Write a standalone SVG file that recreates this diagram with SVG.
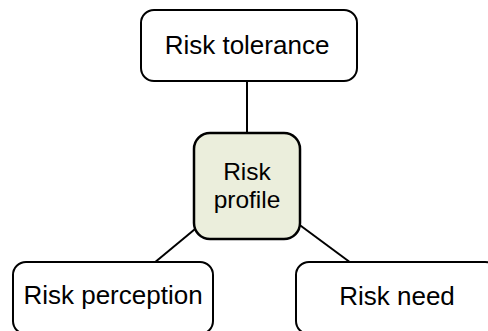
<svg xmlns="http://www.w3.org/2000/svg" width="488" height="331" viewBox="0 0 488 331">
  <style>
    .box { fill: #ffffff; stroke: #000000; stroke-width: 2; }
    .core { fill: #ebeedc; stroke: #000000; stroke-width: 2.5; }
    .link { stroke: #000000; stroke-width: 2; fill: none; }
    .label { font-family: "Liberation Sans", Arial, sans-serif; font-size: 26px; fill: #000000; text-anchor: middle; }
    .core-label { font-size: 24.5px; }
  </style>
  <rect width="488" height="331" fill="#ffffff"/>
  <!-- connectors run centre to centre and are hidden under the boxes -->
  <g id="connectors">
    <line class="link" x1="247" y1="81" x2="247" y2="186"/>
    <line class="link" x1="247" y1="186" x2="113" y2="297"/>
    <line class="link" x1="247" y1="186" x2="397" y2="297"/>
  </g>
  <g id="risk-tolerance">
    <rect class="box" x="141" y="10" width="216" height="71" rx="13"/>
    <text class="label" x="247" y="54">Risk tolerance</text>
  </g>
  <g id="risk-profile">
    <rect class="core" x="194" y="133" width="106" height="106" rx="16"/>
    <text class="label core-label" x="247" y="180">Risk</text>
    <text class="label core-label" x="247" y="208">profile</text>
  </g>
  <g id="risk-perception">
    <rect class="box" x="13" y="262" width="200" height="72" rx="13"/>
    <text class="label" x="113" y="304">Risk perception</text>
  </g>
  <g id="risk-need">
    <rect class="box" x="296" y="262" width="202" height="72" rx="13"/>
    <text class="label" x="397" y="305">Risk need</text>
  </g>
</svg>
